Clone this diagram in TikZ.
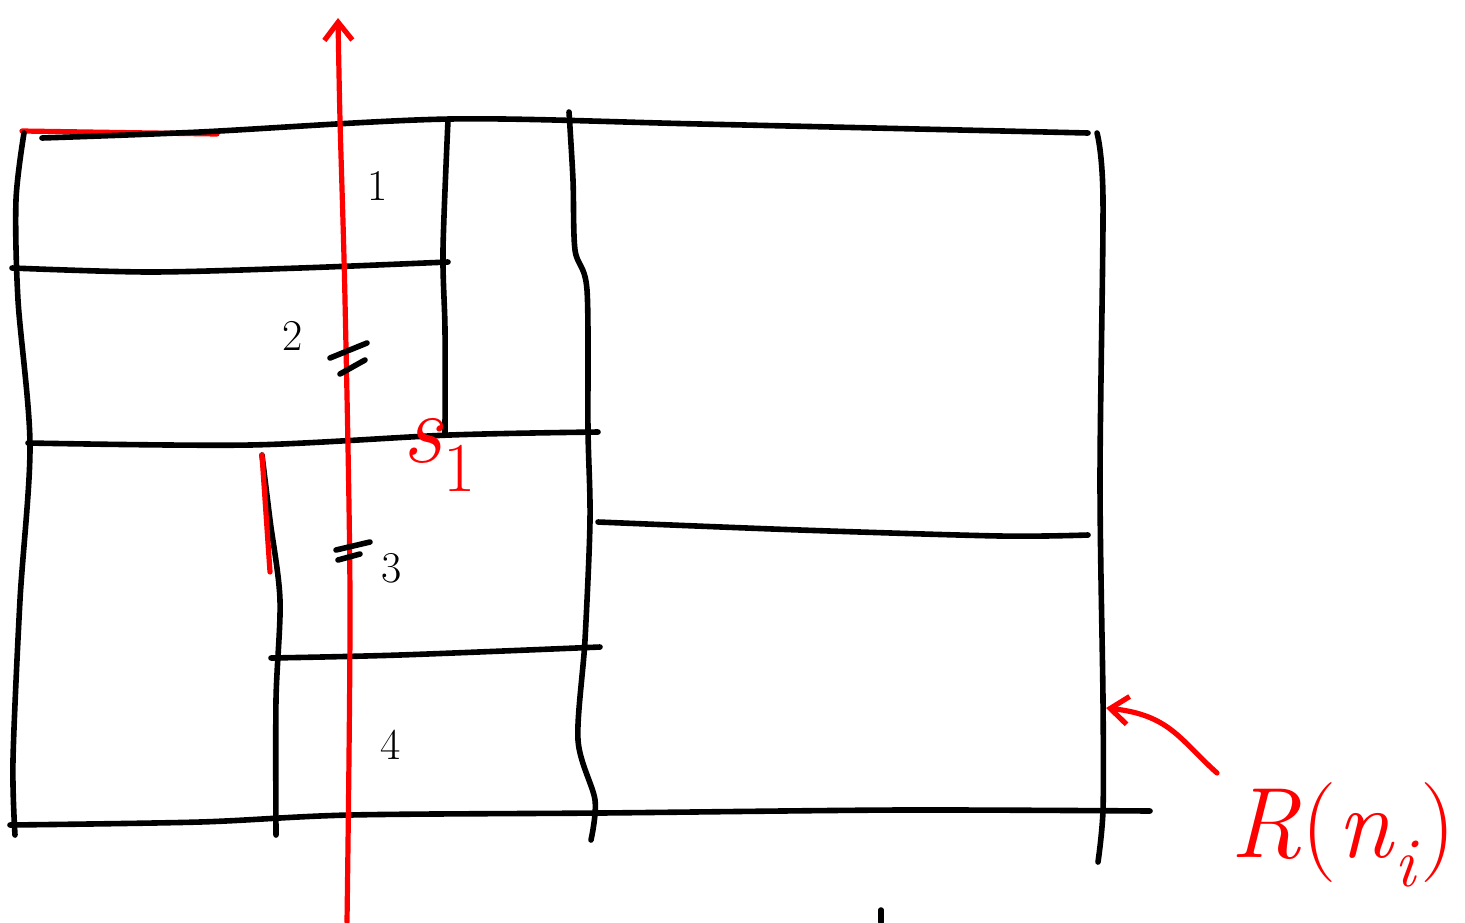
\documentclass[tikz,border=0pt]{standalone}
\usepackage{tikz}
\usetikzlibrary{arrows.meta,positioning}
\definecolor{penred}{HTML}{FF0000}
\tikzset{
  sketchline/.style={draw=black, line width=2.8pt, line cap=round, line join=round},
  redline/.style={draw=penred, line width=2.6pt, line cap=round, line join=round},
  redarrow/.style={redline, -{Straight Barb[length=9pt, width=14pt, line width=2.6pt]}},
  tick/.style={draw=black, line width=2.8pt, line cap=round},
  digit/.style={font=\fontsize{22}{24}\selectfont, inner sep=0pt},
  redlabel/.style={text=penred, inner sep=0pt}
}
\begin{document}
\begin{tikzpicture}[x=0.5pt, y=-0.5pt]
  \useasboundingbox (0,0) rectangle (1465,922);

  % outer frame and cells
  \draw[redline] (22,131) -- (217,134);
  \draw[sketchline] plot[smooth] coordinates {(42,138) (200,132) (450,119) (700,124) (1088,133)};
  \draw[sketchline] plot[smooth] coordinates {(24,133) (16,200) (18,300) (30,445) (20,600) (13,760) (15,835)};
  \draw[sketchline] plot[smooth] coordinates {(12,268) (150,272) (300,268) (448,262)};
  \draw[sketchline] plot[smooth] coordinates {(448,120) (443,250) (445,330) (445,433)};
  \draw[sketchline] plot[smooth] coordinates {(569,112) (573,180) (575,250) (587,290) (588,430) (590,520) (585,640) (578,740) (595,800) (591,840)};
  \draw[sketchline] plot[smooth] coordinates {(28,443) (250,445) (450,435) (598,432)};
  \draw[sketchline] plot[smooth] coordinates {(262,455) (270,520) (280,600) (276,700) (276,835)};
  \draw[redline] (262,455) -- (270,572);
  \draw[sketchline] plot[smooth] coordinates {(271,658) (400,655) (600,647)};
  \draw[sketchline] plot[smooth] coordinates {(10,825) (200,822) (350,815) (600,813) (900,810) (1150,811)};
  \draw[sketchline] plot[smooth] coordinates {(598,522) (800,530) (1000,536) (1088,535)};
  \draw[sketchline] plot[smooth] coordinates {(1097,133) (1103,200) (1100,480) (1103,700) (1103,810) (1098,862)};
  \draw[sketchline] (881,910) -- (881,922);

  % red axis
  \draw[redarrow] plot[smooth] coordinates {(347,922) (350,600) (345,300) (340,120) (338,18)};

  % crossing marks
  \draw[tick] (330,358) -- (367,343);
  \draw[tick] (340,374) -- (365,360);
  \draw[tick] (336,550) -- (370,542);
  \draw[tick] (338,560) -- (360,554);

  % cell labels
  \node[digit] (one) at (378,186) {1};
  \node[digit] (two) at (293,336) {2};
  \node[digit] (three) at (392,568) {3};
  \node[digit] (four) at (391,745) {4};
  \node[redlabel, font=\fontsize{50}{54}\selectfont] (split) at (440,455) {\textit{s}\textsubscript{1}};

  % region label
  \node[redlabel, font=\fontsize{50}{54}\selectfont] (region) at (1343,835) {\textit{R}(\textit{n}\textsubscript{\textit{i}})};
  \coordinate (rightedge) at (1106,708);
  \draw[redarrow] (1217,773) .. controls (1180,740) and (1170,715) .. (rightedge);
\end{tikzpicture}
\end{document}
